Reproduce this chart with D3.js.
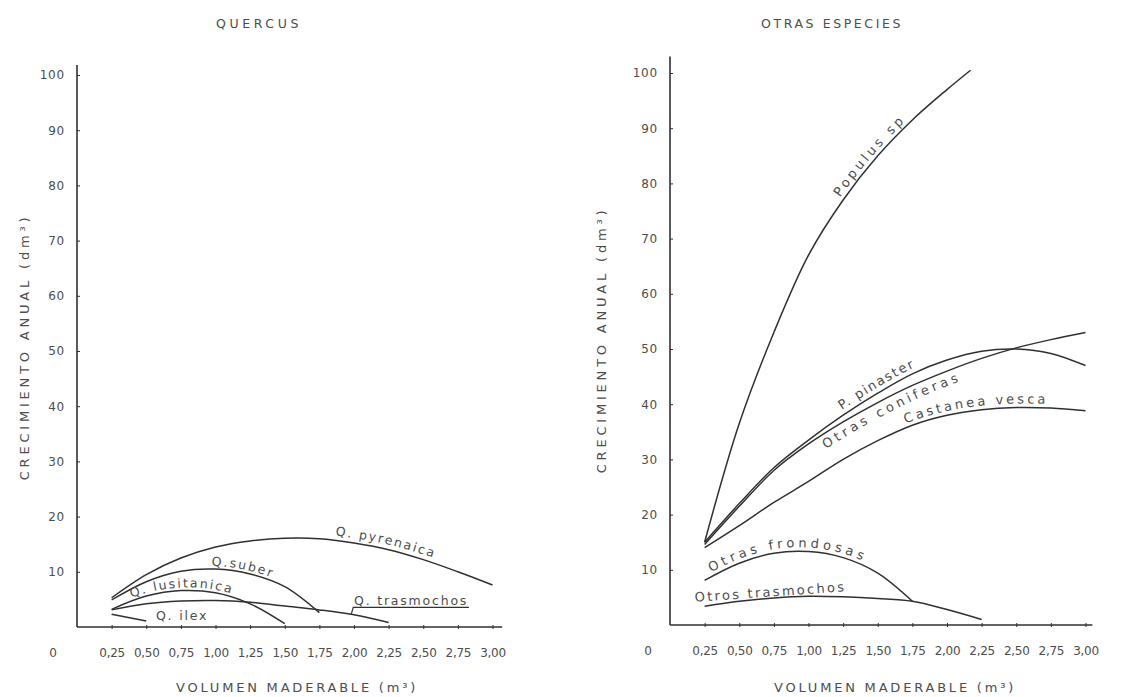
<!DOCTYPE html>
<html><head><meta charset="utf-8">
<script src="https://cdn.jsdelivr.net/npm/d3@7"></script>
<style>
body{margin:0;background:#fff;}
svg{display:block;}
text{font-family:"DejaVu Sans",sans-serif;fill:#4d4d4d;}
</style></head><body>
<svg id="c" width="1143" height="697"></svg>
<script>
// ---------- tick values / labels ----------
const xTicks = [0.25,0.5,0.75,1.0,1.25,1.5,1.75,2.0,2.25,2.5,2.75,3.0];
const xTickLabels = ["0,25","0,50","0,75","1,00","1,25","1,50","1,75","2,00","2,25","2,50","2,75","3,00"];
const yTicks = [10,20,30,40,50,60,70,80,90,100];

// ---------- QUERCUS (volumen m3 -> crecimiento dm3) ----------
const volPyrenaica = [0.25,0.5,0.75,1.0,1.25,1.5,1.75,2.0,2.25,2.5,2.75,3.0];
const qPyrenaica   = [5.3,9.5,12.5,14.5,15.6,16.1,16.0,15.2,14.0,12.2,10.0,7.6];
const volSuber     = [0.25,0.5,0.75,1.0,1.25,1.5,1.75];
const qSuber       = [4.9,8.2,10.1,10.5,9.6,7.3,2.6];
const volLusitanica= [0.25,0.5,0.75,1.0,1.25,1.5];
const qLusitanica  = [3.2,5.6,6.6,6.2,4.2,0.6];
const volTrasmQ    = [0.25,0.5,0.75,1.0,1.25,1.5,1.75,2.0,2.25];
const qTrasmochos  = [3.1,4.2,4.7,4.8,4.5,3.8,3.1,2.2,0.8];
const volIlex      = [0.25,0.5];
const qIlex        = [2.3,1.1];

// ---------- OTRAS ESPECIES ----------
const volPopulus   = [0.25,0.5,0.75,1.0,1.25,1.5,1.75,2.0,2.17];
const populus      = [15,36.5,53,67,77,85,91.5,97,100.5];
const volPinaster  = [0.25,0.5,0.75,1.0,1.25,1.5,1.75,2.0,2.25,2.5,2.75,3.0];
const pinaster     = [15,22,28.5,33.5,38,42,45.5,48,49.6,50,49.2,47];
const volConiferas = [0.25,0.5,0.75,1.0,1.25,1.5,1.75,2.0,2.25,2.5,2.75,3.0];
const coniferas    = [14.6,21.5,28,32.8,36.8,40.3,43.4,46,48.3,50.2,51.7,53];
const volCastanea  = [0.25,0.5,0.75,1.0,1.25,1.5,1.75,2.0,2.25,2.5,2.75,3.0];
const castanea     = [14,18,22.2,26,30,33.4,36.2,38,39,39.4,39.3,38.8];
const volFrondosas = [0.25,0.5,0.75,1.0,1.25,1.5,1.75];
const frondosas    = [8.1,11.2,13.0,13.3,12.2,9.4,4.3];
const volTrasmO    = [0.25,0.5,0.75,1.0,1.25,1.5,1.75,2.0,2.25];
const otrosTrasm   = [3.4,4.3,4.9,5.2,5.1,4.8,4.3,2.8,1.0];

const zip = (xs, ys) => xs.map((v,i)=>({v, y: ys[i]}));

const panels = [
  {
    title: "QUERCUS", titleX: 259, titleLs: 3.6,
    xRange: [77, 492.5], yRange: [627, 75], yTop: 101.8, xEnd: 3.07,
    zeroX: 53, xTitleX: 297, yTitleX: 24, yTitleY: 347,
    series: {
      pyrenaica: zip(volPyrenaica, qPyrenaica),
      suber: zip(volSuber, qSuber),
      lusitanica: zip(volLusitanica, qLusitanica),
      trasm: zip(volTrasmQ, qTrasmochos),
      ilex: zip(volIlex, qIlex)
    },
    pathLabels: [
      {s:"pyrenaica", text:"Q. pyrenaica", start:1.86, dy:-5},
      {s:"suber", text:"Q.suber", start:0.97, dy:-3},
      {s:"lusitanica", text:"Q. lusitanica", start:0.40, dy:-3}
    ],
    freeLabels: [
      {text:"Q. ilex", v:0.57, y:1.2, rot:0},
      {text:"Q. trasmochos", v:2.0, y:4.0, rot:0, underline:{s:"trasm", from:1.98, to:2.83}}
    ],
    fontSize: 12.5, ls: 1.8
  },
  {
    title: "OTRAS ESPECIES", titleX: 832, titleLs: 2.6,
    xRange: [670, 1085.5], yRange: [625, 73], yTop: 103, xEnd: 3.05,
    zeroX: 648, xTitleX: 895, yTitleX: 601, yTitleY: 340,
    series: {
      populus: zip(volPopulus, populus),
      pinaster: zip(volPinaster, pinaster),
      coniferas: zip(volConiferas, coniferas),
      castanea: zip(volCastanea, castanea),
      frondosas: zip(volFrondosas, frondosas),
      trasm: zip(volTrasmO, otrosTrasm)
    },
    pathLabels: [
      {s:"populus", text:"Populus sp", start:1.25, dy:-4, ls:3.2},
      {s:"pinaster", text:"P. pinaster", start:1.26, dy:-5, ls:1.6},
      {s:"coniferas", text:"Otras coniferas", start:1.07, dy:14, ls:3.8},
      {s:"castanea", text:"Castanea vesca", start:1.71, dy:-4, ls:2.9},
      {s:"frondosas", text:"Otras frondosas", start:0.31, dy:-4, ls:3.6}
    ],
    freeLabels: [
      {text:"Otros trasmochos", v:0.18, y:4.2, rot:-4, ls:2.3}
    ],
    fontSize: 13, ls: 2.3
  }
];

const svg = d3.select("#c");
const ink = "#303030";

function lengthAtX(node, px){
  let lo = 0, hi = node.getTotalLength();
  for(let i=0;i<40;i++){
    const mid=(lo+hi)/2;
    if(node.getPointAtLength(mid).x < px) lo = mid; else hi = mid;
  }
  return (lo+hi)/2;
}
function interp(data, v){
  for(let i=0;i<data.length-1;i++){
    if(v>=data[i].v && v<=data[i+1].v){
      const t=(v-data[i].v)/(data[i+1].v-data[i].v);
      return data[i].y + t*(data[i+1].y-data[i].y);
    }
  }
  return data[data.length-1].y;
}

panels.forEach((p, pi) => {
  const x = d3.scaleLinear().domain([0,3]).range(p.xRange);
  const y = d3.scaleLinear().domain([0,100]).range(p.yRange);
  const g = svg.append("g");

  // title
  g.append("text").attr("x", p.titleX).attr("y", 28).attr("text-anchor","middle")
    .style("font-size","12.5px").style("letter-spacing", p.titleLs+"px").text(p.title);

  // axes lines
  g.append("line").attr("x1", x(0)).attr("x2", x(0)).attr("y1", y(0)).attr("y2", y(p.yTop))
    .attr("stroke", ink).attr("stroke-width", 1.6);
  g.append("line").attr("x1", x(0)).attr("x2", x(p.xEnd)).attr("y1", y(0)).attr("y2", y(0))
    .attr("stroke", ink).attr("stroke-width", 1.6);

  // x axis
  const xa = g.append("g").attr("transform", `translate(0,${y(0)})`)
    .call(d3.axisBottom(x).tickValues(xTicks).tickFormat((d,i)=>xTickLabels[i]).tickSize(3).tickPadding(18));
  xa.select(".domain").remove();
  xa.selectAll(".tick line").attr("stroke", ink).attr("y1", -2).attr("y2", 2);
  xa.selectAll(".tick text").style("font-size","12px").style("font-family","DejaVu Sans")
    .style("letter-spacing","-0.3px").attr("fill","#4d4d4d");
  // origin zero
  g.append("text").attr("x", p.zeroX).attr("y", y(0)+30).attr("text-anchor","middle")
    .style("font-size","12px").text("0");

  // y axis
  const ya = g.append("g").attr("transform", `translate(${x(0)},0)`)
    .call(d3.axisLeft(y).tickValues(yTicks).tickSize(-3).tickPadding(12));
  ya.select(".domain").remove();
  ya.selectAll(".tick line").attr("stroke", ink);
  ya.selectAll(".tick text").style("font-size","12px").style("font-family","DejaVu Sans")
    .style("letter-spacing","0.8px").attr("fill","#4d4d4d");

  // axis titles
  g.append("text").attr("x", p.xTitleX).attr("y", 692).attr("text-anchor","middle")
    .style("font-size","13px").style("letter-spacing","2.8px")
    .text("VOLUMEN MADERABLE (m³)");
  g.append("text").attr("transform", `translate(${p.yTitleX},${p.yTitleY}) rotate(-90)`)
    .attr("text-anchor","middle").attr("dy","0.35em")
    .style("font-size","13px").style("letter-spacing","3.8px")
    .text("CRECIMIENTO ANUAL (dm³)");

  // curves
  const line = d3.line().x(d=>x(d.v)).y(d=>y(d.y)).curve(d3.curveCatmullRom.alpha(0.5));
  const paths = {};
  Object.entries(p.series).forEach(([k, data]) => {
    paths[k] = g.append("path").datum(data).attr("id", `p${pi}-${k}`)
      .attr("d", line).attr("fill","none").attr("stroke", ink).attr("stroke-width", 1.5);
  });

  // labels along curves
  p.pathLabels.forEach(l => {
    const node = paths[l.s].node();
    const off = lengthAtX(node, x(l.start));
    g.append("text").attr("dy", l.dy)
      .style("font-size", p.fontSize+"px").style("letter-spacing", (l.ls ?? p.ls)+"px")
      .append("textPath").attr("href", `#p${pi}-${l.s}`).attr("startOffset", off)
      .text(l.text);
  });
  // free labels
  p.freeLabels.forEach(l => {
    g.append("text").attr("transform", `translate(${x(l.v)},${y(l.y)}) rotate(${l.rot})`)
      .style("font-size", p.fontSize+"px").style("letter-spacing", (l.ls ?? p.ls)+"px").text(l.text);
    if(l.underline){
      const u = l.underline, uy = y(l.y)+2.5;
      g.append("path").attr("d",
          `M${x(u.from)},${y(interp(p.series[u.s], u.from))}L${x(u.from)+2},${uy}L${x(u.to)},${uy}`)
        .attr("fill","none").attr("stroke", ink).attr("stroke-width",1.2);
    }
  });
});
</script>
</body></html>
